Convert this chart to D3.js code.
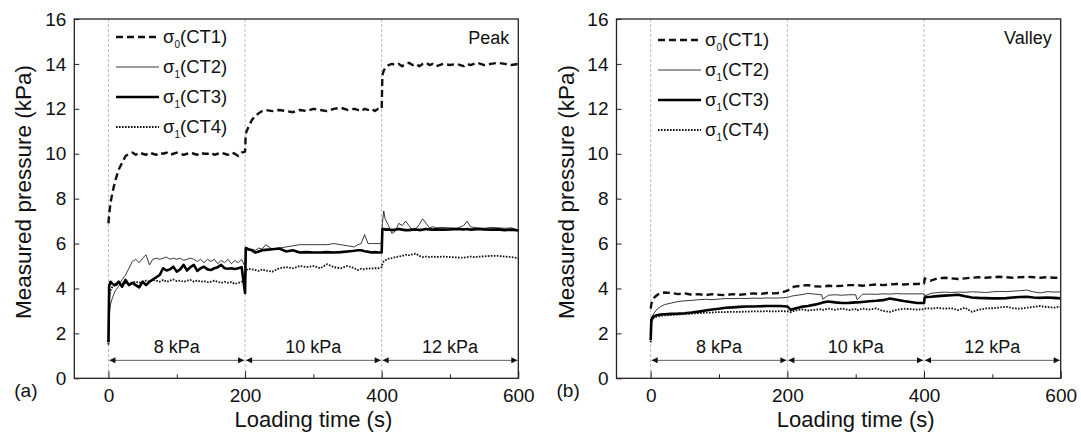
<!DOCTYPE html>
<html>
<head>
<meta charset="utf-8">
<script src="https://cdnjs.cloudflare.com/ajax/libs/d3/7.8.5/d3.min.js"></script>
<style>
  body { margin: 0; background: #fff; }
  svg text { font-family: "Liberation Sans", Arial, sans-serif; fill: #111; }
</style>
</head>
<body>
<svg id="chart" width="1081" height="435"></svg>
<script>
// ---- data ----
var xTicks = [0, 200, 400, 600];
var xMinorTicks = [100, 300, 500];
var yTicks = [0, 2, 4, 6, 8, 10, 12, 14, 16];
var stageBounds = [0, 200, 400, 600];
var stageLabels = ["8 kPa", "10 kPa", "12 kPa"];
var seriesNames = ["CT1", "CT2", "CT3", "CT4"];
var seriesSub = ["0", "1", "1", "1"];

// (a) Peak
var peakTime = [0, 1, 3, 6, 10, 15, 20, 25, 30, 35, 40, 45, 50, 55, 60, 65, 70, 75, 80, 85, 90, 95, 100, 105, 110, 115, 120, 125, 130, 135, 140, 145, 150, 155, 160, 165, 170, 175, 180, 185, 190, 195,
  200, 201, 205, 210, 215, 220, 225, 230, 240, 250, 260, 270, 280, 290, 300, 310, 320, 330, 340, 350, 360, 365, 370, 375, 380, 385, 390, 395,
  400, 401, 403, 405, 410, 415, 420, 425, 430, 435, 440, 445, 450, 455, 460, 465, 470, 475, 480, 490, 500, 510, 520, 525, 530, 535, 540, 550, 560, 570, 580, 590, 600];
var peakCT1 = [6.9, 7.3, 7.8, 8.3, 8.8, 9.3, 9.6, 9.9, 10.0, 10.05, 9.95, 10.05, 10.0, 9.95, 10.05, 10.0, 9.95, 10.05, 10.0, 10.05, 9.95, 10.0, 10.05, 10.0, 9.95, 10.0, 10.05, 10.0, 9.95, 10.05, 10.0, 10.0, 10.05, 9.95, 10.0, 10.05, 10.0, 9.95, 10.05, 10.0, 9.9, 10.05,
  10.1, 10.9, 11.2, 11.5, 11.7, 11.8, 11.9, 11.95, 11.9, 11.95, 11.9, 11.85, 11.95, 11.9, 12.0, 11.95, 11.9, 12.0, 12.05, 11.95, 12.0, 11.95, 11.9, 12.0, 11.95, 12.0, 11.9, 12.0,
  12.0, 13.5, 13.7, 13.8, 13.95, 14.0, 13.95, 14.0, 13.9, 14.0, 14.05, 13.95, 14.0, 13.9, 14.0, 14.05, 13.95, 14.0, 13.9, 14.0, 13.95, 14.0, 13.9, 14.0, 13.95, 14.0, 14.05, 13.95, 14.0, 14.05, 14.0, 13.95, 14.0];
var peakCT2 = [1.8, 2.8, 3.3, 3.6, 3.9, 4.1, 4.4, 4.6, 4.9, 5.2, 5.3, 5.15, 5.35, 5.5, 5.05, 5.3, 5.35, 5.3, 5.35, 5.4, 5.3, 5.35, 5.3, 5.35, 5.25, 5.3, 5.35, 5.3, 5.2, 5.3, 5.15, 5.3, 5.2, 5.3, 5.1, 5.25, 5.15, 5.3, 5.1, 5.25, 5.15, 5.3,
  4.95, 5.75, 5.7, 5.75, 5.7, 5.8, 5.75, 5.95, 5.75, 5.8, 5.85, 5.9, 5.95, 5.95, 5.95, 5.95, 5.95, 6.0, 5.95, 5.9, 5.85, 5.95, 6.0, 6.4, 6.0, 6.0, 6.0, 6.0,
  6.0, 6.9, 7.45, 7.1, 6.8, 6.45, 6.55, 6.9, 6.8, 7.0, 6.8, 6.6, 6.65, 6.85, 7.1, 6.9, 6.7, 6.75, 6.7, 6.72, 6.7, 6.68, 6.8, 7.0, 6.75, 6.72, 6.7, 6.68, 6.72, 6.7, 6.68, 6.7, 6.6];
var peakCT3 = [1.6, 4.1, 4.3, 4.2, 4.15, 4.3, 4.08, 4.38, 4.15, 4.25, 4.15, 4.05, 4.3, 4.15, 4.3, 4.4, 4.5, 4.6, 4.9, 4.8, 4.85, 4.97, 4.75, 4.85, 5.05, 4.8, 4.95, 5.05, 4.78, 4.9, 4.97, 4.85, 4.82, 4.9, 4.95, 5.05, 4.9, 4.88, 4.9, 4.87, 4.9, 4.95,
  3.8, 5.8, 5.75, 5.7, 5.6, 5.65, 5.7, 5.72, 5.75, 5.78, 5.65, 5.7, 5.6, 5.62, 5.6, 5.6, 5.62, 5.6, 5.62, 5.65, 5.68, 5.7, 5.7, 5.66, 5.64, 5.6, 5.62, 5.6,
  5.6, 6.65, 6.65, 6.62, 6.63, 6.6, 6.62, 6.65, 6.62, 6.6, 6.6, 6.62, 6.63, 6.6, 6.62, 6.65, 6.63, 6.62, 6.63, 6.62, 6.63, 6.65, 6.63, 6.65, 6.62, 6.63, 6.65, 6.63, 6.62, 6.63, 6.6, 6.62, 6.58];
var peakCT4 = [1.5, 3.6, 3.9, 4.1, 4.15, 4.2, 4.2, 4.25, 4.2, 4.25, 4.3, 4.25, 4.3, 4.35, 4.3, 4.38, 4.35, 4.3, 4.38, 4.3, 4.35, 4.4, 4.33, 4.35, 4.3, 4.35, 4.38, 4.3, 4.35, 4.3, 4.33, 4.28, 4.3, 4.35, 4.3, 4.25, 4.3, 4.25, 4.28, 4.2, 4.25, 4.3,
  4.35, 4.8, 4.88, 4.85, 4.82, 4.78, 4.85, 4.8, 4.75, 4.9, 4.95, 4.9, 5.0, 4.95, 5.0, 4.9, 5.08, 4.95, 4.9, 5.0, 4.9, 4.82, 4.88, 4.85, 4.9, 4.88, 4.9, 4.9,
  4.95, 5.1, 5.2, 5.25, 5.33, 5.35, 5.4, 5.42, 5.45, 5.5, 5.48, 5.52, 5.55, 5.45, 5.4, 5.42, 5.4, 5.42, 5.4, 5.42, 5.4, 5.38, 5.37, 5.4, 5.42, 5.4, 5.41, 5.43, 5.45, 5.45, 5.42, 5.4, 5.35];

// (b) Valley
var valleyTime = [0, 1, 3, 6, 10, 15, 20, 30, 40, 50, 60, 70, 80, 90, 100, 110, 120, 130, 140, 150, 160, 170, 180, 190, 200,
  205, 210, 220, 230, 240, 250, 252, 260, 270, 280, 290, 300, 302, 310, 320, 330, 340, 350, 360, 370, 380, 390, 400,
  401, 405, 410, 420, 430, 440, 450, 460, 470, 480, 490, 500, 510, 520, 530, 540, 550, 560, 570, 580, 590, 600];
var valleyCT1 = [3.1, 3.3, 3.5, 3.62, 3.72, 3.8, 3.82, 3.8, 3.75, 3.78, 3.72, 3.75, 3.7, 3.75, 3.72, 3.7, 3.75, 3.72, 3.75, 3.78, 3.75, 3.8, 3.78, 3.8, 3.9,
  4.0, 4.08, 4.12, 4.15, 4.1, 4.08, 4.08, 4.12, 4.1, 4.12, 4.15, 4.15, 4.15, 4.12, 4.15, 4.18, 4.15, 4.18, 4.2, 4.18, 4.2, 4.2, 4.22,
  4.45, 4.4, 4.35, 4.45, 4.48, 4.45, 4.42, 4.45, 4.48, 4.5, 4.48, 4.5, 4.52, 4.5, 4.48, 4.5, 4.52, 4.5, 4.48, 4.5, 4.48, 4.48];
var valleyCT2 = [2.5, 2.7, 2.8, 2.95, 3.1, 3.2, 3.28, 3.35, 3.42, 3.45, 3.47, 3.5, 3.52, 3.5, 3.53, 3.55, 3.55, 3.56, 3.55, 3.57, 3.56, 3.58, 3.57, 3.58, 3.6,
  3.65, 3.68, 3.72, 3.78, 3.75, 3.72, 3.52, 3.7, 3.72, 3.7, 3.72, 3.72, 3.5, 3.74, 3.75, 3.74, 3.76, 3.75, 3.77, 3.76, 3.76, 3.76, 3.76,
  3.67, 3.72, 3.78, 3.82, 3.84, 3.82, 3.84, 3.83, 3.85, 3.84, 3.82, 3.85, 3.87, 3.86, 3.88, 3.9, 3.93, 3.85, 3.8, 3.86, 3.84, 3.85];
var valleyCT3 = [1.7, 2.6, 2.72, 2.78, 2.82, 2.84, 2.85, 2.87, 2.88, 2.9, 2.93, 2.97, 3.02, 3.06, 3.1, 3.14, 3.16, 3.18, 3.2, 3.2, 3.21, 3.22, 3.22, 3.22, 3.2,
  3.05, 3.1, 3.18, 3.22, 3.28, 3.35, 3.38, 3.42, 3.38, 3.35, 3.36, 3.38, 3.38, 3.4, 3.43, 3.45, 3.48, 3.55, 3.5, 3.44, 3.4, 3.35, 3.35,
  3.6, 3.62, 3.63, 3.66, 3.68, 3.7, 3.72, 3.65, 3.6, 3.58, 3.57, 3.56, 3.56, 3.57, 3.6, 3.62, 3.63, 3.6, 3.58, 3.6, 3.58, 3.56];
var valleyCT4 = [1.6, 2.5, 2.65, 2.72, 2.75, 2.78, 2.8, 2.82, 2.84, 2.86, 2.88, 2.9, 2.92, 2.93, 2.95, 2.95, 2.96, 2.96, 2.97, 2.98, 2.98, 2.99, 2.98, 2.99, 2.98,
  2.95, 3.0, 3.07, 3.02, 3.05, 3.08, 3.05, 3.1, 3.05, 3.11, 3.04, 3.08, 3.02, 3.1, 3.06, 3.11, 3.0, 2.96, 3.05, 3.1, 3.08, 3.06, 3.08,
  3.1, 3.12, 3.1, 3.14, 3.1, 3.12, 3.04, 3.14, 2.96, 3.05, 3.11, 3.12, 3.15, 3.19, 3.12, 3.1, 3.14, 3.18, 3.22, 3.17, 3.15, 3.19];

// line styles for CT1..CT4
var styles = [
  { width: 2.4, dash: "7,4", color: "#111" },
  { width: 0.9, dash: null, color: "#222" },
  { width: 2.6, dash: null, color: "#000" },
  { width: 1.8, dash: "1.6,1.4", color: "#111" }
];

var svg = d3.select("#chart");

svg.append("defs").append("marker")
    .attr("id", "arrow")
    .attr("viewBox", "0 0 10 10")
    .attr("refX", 10).attr("refY", 5)
    .attr("markerWidth", 7).attr("markerHeight", 6)
    .attr("markerUnits", "userSpaceOnUse")
    .attr("orient", "auto-start-reverse")
  .append("path")
    .attr("d", "M0,0 L10,5 L0,10 z")
    .attr("fill", "#111");

function drawPanel(left, right, time, values, corner, tag, legendX, legendY) {
  var top = 19, bottom = 378.3;
  var x = d3.scaleLinear().domain([-50, 600]).range([left, right]);
  var y = d3.scaleLinear().domain([0, 16]).range([bottom, top]);
  var g = svg.append("g");

  // dashed guides at stage changes
  g.selectAll(".guide")
    .data(stageBounds.slice(0, 3))
    .enter().append("line")
      .attr("x1", function(d){ return x(d); })
      .attr("x2", function(d){ return x(d); })
      .attr("y1", top).attr("y2", bottom)
      .attr("stroke", "#aaa").attr("stroke-width", 0.8)
      .attr("stroke-dasharray", "3,2");

  // stage arrows and labels
  for (var i = 0; i < 3; i++) {
    g.append("line")
      .attr("x1", x(stageBounds[i]) + 1).attr("x2", x(stageBounds[i + 1]) - 1)
      .attr("y1", y(0.8)).attr("y2", y(0.8))
      .attr("stroke", "#333").attr("stroke-width", 0.8)
      .attr("marker-start", "url(#arrow)")
      .attr("marker-end", "url(#arrow)");
    g.append("text")
      .attr("x", x((stageBounds[i] + stageBounds[i + 1]) / 2))
      .attr("y", y(0.8) - 7)
      .attr("text-anchor", "middle")
      .style("font-size", "18px")
      .text(stageLabels[i]);
  }

  // curves
  var order = [3, 1, 2, 0];
  order.forEach(function(k) {
    var line = d3.line()
      .x(function(d, j){ return x(time[j]); })
      .y(function(d){ return y(d); });
    g.append("path")
      .datum(values[k])
      .attr("d", line)
      .attr("fill", "none")
      .attr("stroke", styles[k].color)
      .attr("stroke-width", styles[k].width)
      .attr("stroke-dasharray", styles[k].dash)
      .attr("stroke-linejoin", "round");
  });

  // axes
  var xAxis = d3.axisBottom(x).tickValues(xTicks).tickSizeInner(-7).tickSizeOuter(0).tickPadding(10);
  var xMinor = d3.axisBottom(x).tickValues(xMinorTicks).tickSizeInner(-4).tickSizeOuter(0).tickFormat("");
  var yAxis = d3.axisLeft(y).tickValues(yTicks).tickSizeInner(-5).tickSizeOuter(0).tickPadding(8);

  var gx = g.append("g").attr("transform", "translate(0," + bottom + ")").call(xAxis);
  var gm = g.append("g").attr("transform", "translate(0," + bottom + ")").call(xMinor);
  var gy = g.append("g").attr("transform", "translate(" + left + ",0)").call(yAxis);
  [gx, gm, gy].forEach(function(a) {
    a.select(".domain").remove();
    a.selectAll("line").attr("stroke", "#222").attr("stroke-width", 1);
    a.selectAll("text").style("font-size", "19px").attr("fill", "#111")
      .style("font-family", "'Liberation Sans', Arial, sans-serif");
  });

  g.append("rect")
    .attr("x", left).attr("y", top)
    .attr("width", right - left).attr("height", bottom - top)
    .attr("fill", "none").attr("stroke", "#222").attr("stroke-width", 1.3);

  // titles
  g.append("text")
    .attr("x", x(300)).attr("y", 427)
    .attr("text-anchor", "middle")
    .style("font-size", "22px")
    .text("Loading time (s)");
  g.append("text")
    .attr("transform", "translate(" + (left - 43) + ",192) rotate(-90)")
    .attr("text-anchor", "middle")
    .style("font-size", "22.5px")
    .text("Measured pressure (kPa)");
  g.append("text")
    .attr("x", left - 60).attr("y", 397)
    .style("font-size", "19px")
    .text(tag);
  g.append("text")
    .attr("x", right - 9).attr("y", 44)
    .attr("text-anchor", "end")
    .style("font-size", "18px")
    .text(corner);

  // legend
  for (var k = 0; k < 4; k++) {
    var ly = legendY + k * 30;
    g.append("line")
      .attr("x1", legendX).attr("x2", legendX + 43)
      .attr("y1", ly).attr("y2", ly)
      .attr("stroke", styles[k].color)
      .attr("stroke-width", styles[k].width)
      .attr("stroke-dasharray", styles[k].dash);
    var t = g.append("text")
      .attr("x", legendX + 47).attr("y", ly + 6)
      .style("font-size", "18.5px");
    t.append("tspan").text("\u03c3");
    t.append("tspan").attr("dy", 5).style("font-size", "10px").text(seriesSub[k]);
    t.append("tspan").attr("dy", -5).text("(" + seriesNames[k] + ")");
  }
}

drawPanel(74.3, 518.3, peakTime, [peakCT1, peakCT2, peakCT3, peakCT4], "Peak", "(a)", 116, 37);
drawPanel(616.5, 1060.7, valleyTime, [valleyCT1, valleyCT2, valleyCT3, valleyCT4], "Valley", "(b)", 658, 40);
</script>
</body>
</html>
